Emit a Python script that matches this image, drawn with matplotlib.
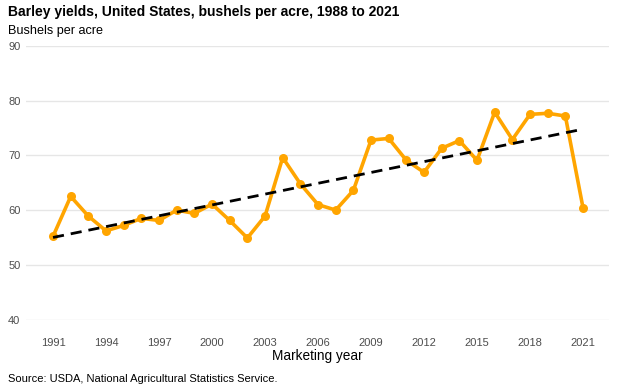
import matplotlib
matplotlib.use("Agg")
import matplotlib.pyplot as plt

years = list(range(1991, 2022))
yields = [55.2, 62.5, 58.9, 56.2, 57.2, 58.5, 58.1, 60.0, 59.4, 61.1,
          58.1, 54.9, 58.9, 69.6, 64.8, 61.0, 60.0, 63.6, 72.8, 73.1,
          69.1, 66.9, 71.3, 72.7, 69.1, 77.9, 72.9, 77.5, 77.7, 77.2, 60.4]
trend_years = [1991, 2021]
trend_values = [55.0, 74.8]
xticks = list(range(1991, 2022, 3))
yticks = [40, 50, 60, 70, 80, 90]

plt.rcParams['font.family'] = ['Liberation Sans', 'DejaVu Sans']

fig = plt.figure(figsize=(6.28, 3.92), dpi=100)
ax = fig.add_axes([26/628, 1 - 319.5/392, (609 - 26)/628, (319.5 - 46)/392])

ax.plot(years, yields, color='#FFA500', lw=2.6, marker='o', ms=6.5,
        markeredgewidth=0, zorder=3, clip_on=False)
ax.plot(trend_years, trend_values, color='black', lw=2.0, ls=(0, (4, 2.5)),
        zorder=4)

ax.set_xlim(1989.47, 2022.47)
ax.set_ylim(40, 90)
ax.set_xticks(xticks)
ax.set_yticks(yticks)
ax.grid(axis='y', color='#e6e6e6', lw=1.0)
ax.set_axisbelow(True)
for s in ax.spines.values():
    s.set_visible(False)
ax.tick_params(axis='both', length=0, labelsize=8, labelcolor='#4d4d4d')
ax.tick_params(axis='x', pad=13)
ax.tick_params(axis='y', pad=4)

ax.set_xlabel('Marketing year', fontsize=9.8, color='black', labelpad=1)

fig.text(8/628, 1 - 12/392, 'Barley yields, United States, bushels per acre, 1988 to 2021',
         fontsize=10, fontweight='bold', va='center', ha='left')
fig.text(8/628, 1 - 31/392, 'Bushels per acre', fontsize=9.1, va='center', ha='left')
fig.text(8/628, 1 - 379/392, 'Source: USDA, National Agricultural Statistics Service.',
         fontsize=8, va='center', ha='left')

fig.savefig('out.png', dpi=100)
